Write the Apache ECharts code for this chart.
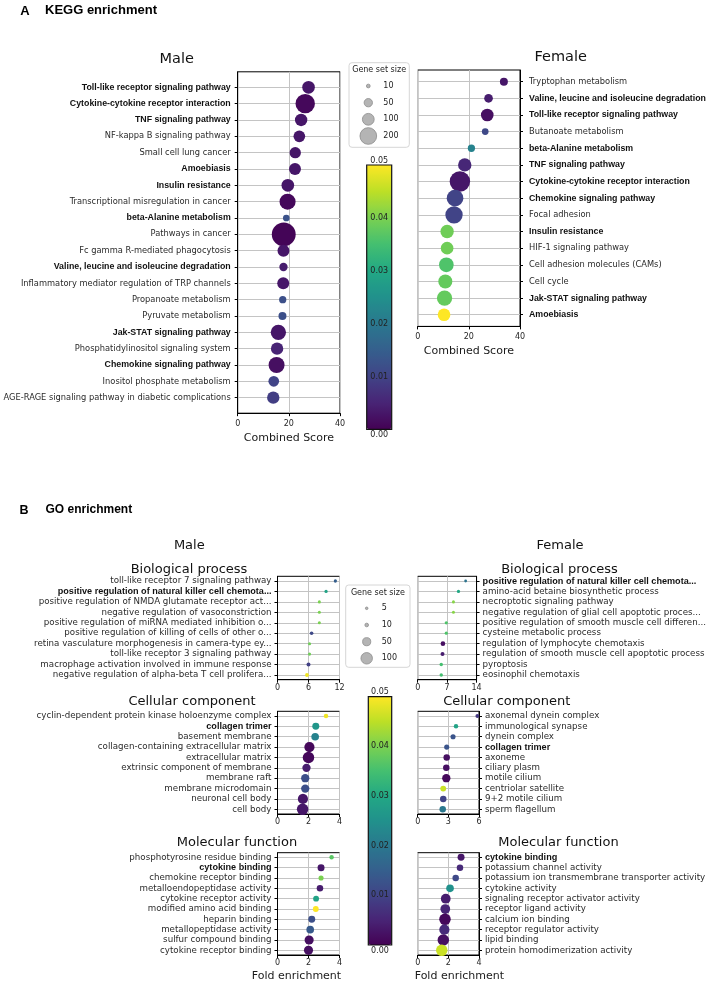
<!DOCTYPE html>
<html><head><meta charset="utf-8">
<script src="https://cdn.jsdelivr.net/npm/echarts@6/dist/echarts.min.js"></script>
<style>html,body{margin:0;padding:0;background:#fff}#c{width:709px;height:983px}</style>
</head><body><div id="c"></div><script>
// ---------- DATA ----------
const keggMaleTerms = ['Toll-like receptor signaling pathway','Cytokine-cytokine receptor interaction','TNF signaling pathway','NF-kappa B signaling pathway','Small cell lung cancer','Amoebiasis','Insulin resistance','Transcriptional misregulation in cancer','beta-Alanine metabolism','Pathways in cancer','Fc gamma R-mediated phagocytosis','Valine, leucine and isoleucine degradation','Inflammatory mediator regulation of TRP channels','Propanoate metabolism','Pyruvate metabolism','Jak-STAT signaling pathway','Phosphatidylinositol signaling system','Chemokine signaling pathway','Inositol phosphate metabolism','AGE-RAGE signaling pathway in diabetic complications'];
const keggMaleScore = [27.7,26.4,24.8,24.1,22.5,22.4,19.6,19.5,19.0,18.0,17.9,17.9,17.8,17.6,17.5,15.9,15.4,15.2,14.1,13.9];
const keggMaleSize = [115,270,110,98,92,103,115,185,32,410,103,50,103,38,46,168,110,185,82,110];
const keggMaleP = [0.003,0.001,0.003,0.003,0.003,0.003,0.003,0.001,0.0125,0.0005,0.003,0.004,0.003,0.012,0.012,0.003,0.005,0.002,0.01,0.009];

const keggFemaleTerms = ['Tryptophan metabolism','Valine, leucine and isoleucine degradation','Toll-like receptor signaling pathway','Butanoate metabolism','beta-Alanine metabolism','TNF signaling pathway','Cytokine-cytokine receptor interaction','Chemokine signaling pathway','Focal adhesion','Insulin resistance','HIF-1 signaling pathway','Cell adhesion molecules (CAMs)','Cell cycle','Jak-STAT signaling pathway','Amoebiasis'];
const keggFemaleScore = [33.7,27.7,27.2,26.4,21.0,18.4,16.5,14.6,14.2,11.5,11.5,11.2,10.8,10.5,10.3];
const keggFemaleSize = [46,54,115,32,38,128,300,200,216,128,115,155,141,168,115];
const keggFemaleP = [0.003,0.004,0.002,0.011,0.022,0.0055,0.003,0.01,0.01,0.039,0.039,0.036,0.038,0.038,0.05];

const keggBold = ['Toll-like receptor signaling pathway','Cytokine-cytokine receptor interaction','TNF signaling pathway','Amoebiasis','Insulin resistance','beta-Alanine metabolism','Valine, leucine and isoleucine degradation','Jak-STAT signaling pathway','Chemokine signaling pathway'];

const bpMaleTerms = ['toll-like receptor 7 signaling pathway','positive regulation of natural killer cell chemota...','positive regulation of NMDA glutamate receptor act...','negative regulation of vasoconstriction','positive regulation of miRNA mediated inhibition o...','positive regulation of killing of cells of other o...','retina vasculature morphogenesis in camera-type ey...','toll-like receptor 3 signaling pathway','macrophage activation involved in immune response','negative regulation of alpha-beta T cell prolifera...'];
const bpMaleFold = [11.2,9.4,8.1,8.1,8.1,6.6,6.2,6.2,6.0,5.7];
const bpMaleSize = [8,8,7,7,7,10,7,7,12,11];
const bpMaleP = [0.015,0.029,0.04,0.04,0.04,0.011,0.039,0.039,0.0095,0.049];

const bpFemaleTerms = ['positive regulation of natural killer cell chemota...','amino-acid betaine biosynthetic process','necroptotic signaling pathway','negative regulation of glial cell apoptotic proces...','positive regulation of smooth muscle cell differen...','cysteine metabolic process','regulation of lymphocyte chemotaxis','regulation of smooth muscle cell apoptotic process','pyroptosis','eosinophil chemotaxis'];
const bpFemaleFold = [11.4,9.7,8.5,8.5,6.8,6.8,6.0,5.9,5.6,5.6];
const bpFemaleSize = [6,8,7,7,8,8,16,12,9,9];
const bpFemaleP = [0.019,0.03,0.041,0.041,0.036,0.036,0.002,0.004,0.035,0.035];

const ccMaleTerms = ['cyclin-dependent protein kinase holoenzyme complex','collagen trimer','basement membrane','collagen-containing extracellular matrix','extracellular matrix','extrinsic component of membrane','membrane raft','membrane microdomain','neuronal cell body','cell body'];
const ccMaleFold = [3.13,2.47,2.43,2.06,2.0,1.87,1.79,1.79,1.64,1.62];
const ccMaleSize = [15,37,44,79,100,52,52,52,79,100];
const ccMaleP = [0.049,0.026,0.022,0.001,0.001,0.004,0.012,0.012,0.003,0.003];

const ccFemaleTerms = ['axonemal dynein complex','immunological synapse','dynein complex','collagen trimer','axoneme','ciliary plasm','motile cilium','centriolar satellite','9+2 motile cilium','sperm flagellum'];
const ccFemaleFold = [5.84,3.75,3.46,2.84,2.84,2.8,2.8,2.5,2.5,2.45];
const ccFemaleSize = [11,15,20,20,32,32,52,26,32,32];
const ccFemaleP = [0.008,0.029,0.013,0.013,0.002,0.002,0.001,0.046,0.01,0.02];

const mfMaleTerms = ['phosphotyrosine residue binding','cytokine binding','chemokine receptor binding','metalloendopeptidase activity','cytokine receptor activity','modified amino acid binding','heparin binding','metallopeptidase activity','sulfur compound binding','cytokine receptor binding'];
const mfMaleFold = [3.49,2.81,2.81,2.74,2.49,2.47,2.21,2.11,2.04,2.0];
const mfMaleSize = [15,37,20,32,26,26,37,44,63,63];
const mfMaleP = [0.037,0.003,0.04,0.004,0.029,0.05,0.012,0.014,0.002,0.002];

const mfFemaleTerms = ['cytokine binding','potassium channel activity','potassium ion transmembrane transporter activity','cytokine activity','signaling receptor activator activity','receptor ligand activity','calcium ion binding','receptor regulator activity','lipid binding','protein homodimerization activity'];
const mfFemaleFold = [2.83,2.76,2.48,2.11,1.83,1.8,1.78,1.74,1.67,1.57];
const mfFemaleSize = [37,32,32,44,72,72,100,79,100,100];
const mfFemaleP = [0.003,0.006,0.011,0.025,0.004,0.005,0.001,0.006,0.002,0.046];

const goBold = ['positive regulation of natural killer cell chemota...','collagen trimer','cytokine binding'];

const keggLegendSizes = [10,50,100,200];
const goLegendSizes = [5,10,50,100];
const colorbarTicks = [0.00,0.01,0.02,0.03,0.04,0.05];
const viridis = ['#440154','#482475','#414487','#355f8d','#2a788e','#21918c','#22a884','#44bf70','#7ad151','#bddf26','#fde725'];

// ---------- BUILD ----------
const FONT = 'DejaVu Sans';
const BFONT = 'Liberation Sans';
const grids = [], xAxes = [], yAxes = [], series = [];
function panel(terms, xs, sizes, ps, bold, o) {
  const gi = grids.length;
  const n = terms.length, m = 0.05 * (n - 1);
  const idx = terms.map((_, i) => i);
  grids.push({left: o.left, top: o.top, width: o.width, height: o.height, show: true,
    borderColor: '#000', borderWidth: 1, backgroundColor: 'transparent'});
  xAxes.push({gridIndex: gi, type: 'value', min: 0, max: o.xmax, interval: o.xint,
    axisLine: {show: true, onZero: false, lineStyle: {color: '#000'}},
    axisTick: {show: true, length: 3, lineStyle: {color: '#000'}},
    axisLabel: {fontSize: o.tfs, color: '#262626', margin: o.tm, fontFamily: FONT},
    splitLine: {show: true, lineStyle: {color: '#c4c4c4'}},
    name: o.xname || '', nameLocation: 'middle', nameGap: o.ng || 18,
    nameTextStyle: {fontSize: 11, color: '#1a1a1a', fontFamily: FONT, padding: o.npad || 0}});
  yAxes.push({gridIndex: gi, type: 'value', inverse: true, min: -m, max: n - 1 + m, position: o.side,
    axisLine: {show: true, onZero: false, lineStyle: {color: '#000'}},
    axisTick: {show: true, customValues: idx, length: 3, lineStyle: {color: '#000'}},
    axisLabel: {customValues: idx, margin: o.lm, fontSize: o.fs, color: '#2a2a2a', fontFamily: FONT,
      formatter: v => { const t = terms[Math.round(v)]; return bold.indexOf(t) >= 0 ? '{b|' + t + '}' : t; },
      rich: {b: {fontWeight: 'bold', fontSize: o.bfs, color: '#111', fontFamily: BFONT}}},
    splitLine: {show: true, lineStyle: {color: '#c4c4c4'}}});
  series.push({type: 'scatter', xAxisIndex: gi, yAxisIndex: gi,
    data: xs.map((x, i) => [x, i, sizes[i], ps[i], terms[i]]),
    symbolSize: v => o.k * Math.sqrt(v[2]), itemStyle: {opacity: 1}});
  return gi;
}
const KK = 1.18, KG = 1.15;
// KEGG
panel(keggMaleTerms, keggMaleScore, keggMaleSize, keggMaleP, keggBold,
  {left: 237.7, top: 71.8, width: 102.3, height: 341.4, xmax: 40, xint: 20, side: 'left', lm: 7, fs: 8.3, bfs: 8.8, tfs: 8, tm: 7, k: KK, xname: 'Combined Score', ng: 19});
panel(keggFemaleTerms, keggFemaleScore, keggFemaleSize, keggFemaleP, keggBold,
  {left: 417.7, top: 70, width: 102.3, height: 256.4, xmax: 40, xint: 20, side: 'right', lm: 9, fs: 8.3, bfs: 8.8, tfs: 8, tm: 7, k: KK, xname: 'Combined Score', ng: 19});
// GO
const gl = 277.5, gw = 62, fl = 417.7, fw = 61.3;
const GF = 8.7, GB = 9.1;
panel(bpMaleTerms, bpMaleFold, bpMaleSize, bpMaleP, goBold, {left: gl, top: 576.3, width: gw, height: 103.4, xmax: 12, xint: 6, side: 'left', lm: 6, fs: GF, bfs: GB, tfs: 8, tm: 4, k: KG});
panel(bpFemaleTerms, bpFemaleFold, bpFemaleSize, bpFemaleP, goBold, {left: fl, top: 576.3, width: fw, height: 103.4, xmax: 14, xint: 7, side: 'right', lm: 6, fs: GF, bfs: GB, tfs: 8, tm: 4, k: KG});
panel(ccMaleTerms, ccMaleFold, ccMaleSize, ccMaleP, goBold, {left: gl, top: 711.3, width: gw, height: 102.7, xmax: 4, xint: 2, side: 'left', lm: 6, fs: GF, bfs: GB, tfs: 8, tm: 4, k: KG});
panel(ccFemaleTerms, ccFemaleFold, ccFemaleSize, ccFemaleP, goBold, {left: fl, top: 711.3, width: fw, height: 102.7, xmax: 6, xint: 3, side: 'right', lm: 6, fs: GF, bfs: GB, tfs: 8, tm: 4, k: KG});
panel(mfMaleTerms, mfMaleFold, mfMaleSize, mfMaleP, goBold, {left: gl, top: 852.7, width: gw, height: 102.3, xmax: 4, xint: 2, side: 'left', lm: 6, fs: GF, bfs: GB, tfs: 8, tm: 4, k: KG, xname: 'Fold enrichment', ng: 16, npad: [0, 24, 0, 0]});
panel(mfFemaleTerms, mfFemaleFold, mfFemaleSize, mfFemaleP, goBold, {left: fl, top: 852.7, width: fw, height: 102.3, xmax: 4, xint: 2, side: 'right', lm: 6, fs: GF, bfs: GB, tfs: 8, tm: 4, k: KG, xname: 'Fold enrichment', ng: 16, npad: [0, 0, 0, 22]});

// ---------- GRAPHIC (texts, legends, colorbar frames) ----------
const graphic = [];
function txt(s, x, y, size, opts) {
  opts = opts || {};
  graphic.push({type: 'text', x: x, y: y, silent: true, style: {text: s, fill: opts.color || '#111',
    fontSize: size, fontFamily: opts.family || FONT, fontWeight: opts.weight || 'normal',
    align: opts.align || 'center', verticalAlign: 'middle'}});
}
txt('A', 25, 11, 13, {family: BFONT, weight: 'bold', color: '#000'});
txt('KEGG enrichment', 45, 10, 13, {family: BFONT, weight: 'bold', align: 'left', color: '#000'});
txt('B', 24, 511, 12.5, {family: BFONT, weight: 'bold', color: '#000'});
txt('GO enrichment', 45.5, 510, 12, {family: BFONT, weight: 'bold', align: 'left', color: '#000'});
txt('Male', 176.7, 59.5, 14.5);
txt('Female', 560.7, 57.5, 14.5);
txt('Male', 189.3, 546, 13);
txt('Female', 560, 546, 13);
txt('Biological process', 189, 569.5, 13);
txt('Biological process', 559.5, 569.5, 13);
txt('Cellular component', 192, 702, 13);
txt('Cellular component', 506.7, 702, 13);
txt('Molecular function', 237, 843, 13);
txt('Molecular function', 558.5, 843, 13);

function sizeLegend(x0, y0, x1, y1, titleY, vals, ys, cx, lx, k) {
  graphic.push({type: 'rect', silent: true, shape: {x: x0, y: y0, width: x1 - x0, height: y1 - y0, r: 3},
    style: {fill: '#fff', stroke: '#d6d6d6', lineWidth: 1}});
  txt('Gene set size', (x0 + x1) / 2, titleY, 8, {color: '#222'});
  vals.forEach((v, i) => {
    graphic.push({type: 'circle', silent: true, shape: {cx: cx, cy: ys[i], r: k * Math.sqrt(v) / 2},
      style: {fill: '#b4b4b4', stroke: '#8c8c8c', lineWidth: 0.8}});
    txt(String(v), lx, ys[i], 8, {align: 'left', color: '#222'});
  });
}
sizeLegend(349, 62.7, 409.3, 147.3, 69.5, keggLegendSizes, [86, 102.7, 119.3, 136], 368.3, 383.3, KK);
sizeLegend(345.7, 585, 410, 667.3, 592.5, goLegendSizes, [608.3, 625, 641.7, 658.3], 366.7, 381.7, KG);

function colorbarFrame(x0, y0, x1, y1) {
  graphic.push({type: 'rect', silent: true, z: 100, shape: {x: x0, y: y0, width: x1 - x0, height: y1 - y0},
    style: {fill: 'none', stroke: '#111', lineWidth: 1.2}});
  const cx = (x0 + x1) / 2;
  colorbarTicks.forEach(t => {
    let y = y1 - (t / 0.05) * (y1 - y0);
    if (t === 0.05) y -= 4.5;
    if (t === 0) y += 5.5;
    graphic.push({type: 'text', x: cx, y: y, silent: true, z: 101, style: {text: t.toFixed(2), fill: '#222',
      fontSize: 8, fontFamily: FONT, align: 'center', verticalAlign: 'middle'}});
  });
}
const kegCB = {x0: 366.7, y0: 165, x1: 391.7, y1: 429.3};
const goCB = {x0: 368.3, y0: 696.7, x1: 391.7, y1: 945};
colorbarFrame(kegCB.x0, kegCB.y0, kegCB.x1, kegCB.y1);
colorbarFrame(goCB.x0, goCB.y0, goCB.x1, goCB.y1);

const option = {
  animation: false,
  backgroundColor: '#fff',
  grid: grids, xAxis: xAxes, yAxis: yAxes, series: series,
  visualMap: [
    {type: 'continuous', seriesIndex: [0, 1], dimension: 3, min: 0, max: 0.05, inRange: {color: viridis},
      calculable: false, hoverLink: false, left: kegCB.x0, top: kegCB.y0, padding: 0,
      itemWidth: kegCB.x1 - kegCB.x0, itemHeight: kegCB.y1 - kegCB.y0, text: null, textStyle: {fontSize: 0}},
    {type: 'continuous', seriesIndex: [2, 3, 4, 5, 6, 7], dimension: 3, min: 0, max: 0.05, inRange: {color: viridis},
      calculable: false, hoverLink: false, left: goCB.x0, top: goCB.y0, padding: 0,
      itemWidth: goCB.x1 - goCB.x0, itemHeight: goCB.y1 - goCB.y0, text: null, textStyle: {fontSize: 0}}
  ],
  graphic: graphic
};
const chart = echarts.init(document.getElementById('c'), null, {renderer: 'canvas'});
chart.setOption(option);
</script></body></html>
